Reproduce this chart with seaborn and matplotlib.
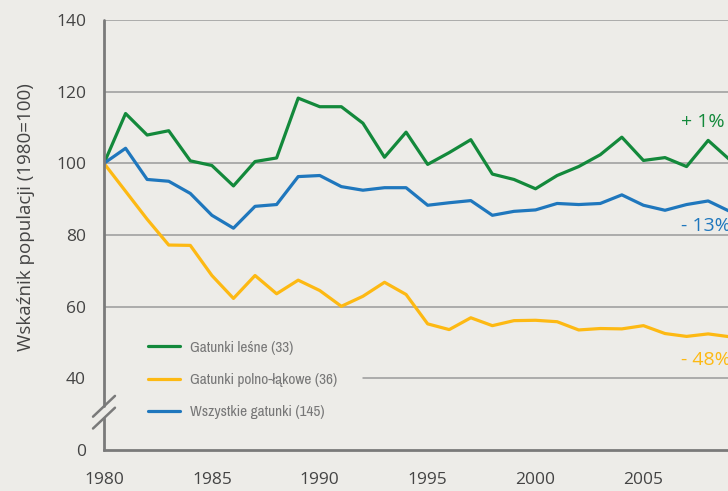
import matplotlib
matplotlib.use("Agg")
import matplotlib.pyplot as plt
import matplotlib.transforms as mtransforms
from matplotlib import font_manager
import seaborn as sns
import pandas as pd

# data (index 1980 = 100)
years = list(range(1980, 2010))
lesne = [100, 113.9, 107.9, 109.1, 100.7, 99.4, 93.7, 100.5, 101.5, 118.2,
         115.8, 115.8, 111.2, 101.7, 108.7, 99.7, 103.0, 106.6, 97.0, 95.5,
         92.9, 96.6, 99.1, 102.4, 107.3, 100.8, 101.6, 99.1, 106.4, 101.0]
polno_lakowe = [100, 92.2, 84.4, 77.2, 77.1, 68.7, 62.3, 68.7, 63.6, 67.4,
                64.5, 60.1, 62.9, 66.8, 63.4, 55.2, 53.6, 56.9, 54.7, 56.1,
                56.2, 55.8, 53.5, 53.9, 53.8, 54.7, 52.5, 51.7, 52.4, 51.6]
wszystkie = [100, 104.2, 95.5, 95.0, 91.6, 85.5, 81.9, 88.0, 88.5, 96.3,
             96.6, 93.5, 92.5, 93.2, 93.2, 88.3, 89.0, 89.6, 85.5, 86.6,
             87.0, 88.8, 88.5, 88.8, 91.2, 88.3, 86.9, 88.5, 89.5, 86.6]

series_names = ["Gatunki leśne (33)", "Gatunki polno-łąkowe (36)", "Wszystkie gatunki (145)"]
series_colors = ["#13893b", "#fdb913", "#1f77bd"]
# end-of-series change labels, same order as the series
end_labels = ["+ 1%", "- 48%", "- 13%"]
end_label_y = [111.5, 45.0, 82.5]

yticks = [20, 40, 60, 80, 100, 120, 140]
ytick_labels = ["0", "40", "60", "80", "100", "120", "140"]
xticks = [1980, 1985, 1990, 1995, 2000, 2005]

bg = "#edece8"
axis_gray = "#7a7a7a"
text_gray = "#444444"

sns.set_theme(style="white")
plt.rcParams["font.family"] = ["Open Sans", "DejaVu Sans"]

# a condensed face for the legend, if one is installed
names = sorted({f.name for f in font_manager.fontManager.ttflist})
narrow = [n for n in names if "Narrow" in n or "Condensed" in n]
legend_font = narrow[0] if narrow else "Roboto"
legend_size = 11 if narrow else 9.6

df = pd.concat([
    pd.DataFrame({"rok": years, "wartosc": vals, "seria": name})
    for name, vals in zip(series_names, [lesne, polno_lakowe, wszystkie])
])

fig = plt.figure(figsize=(7.28, 4.91), dpi=100, facecolor=bg)
ax = fig.add_axes([104 / 728, 41 / 491, 624 / 728, 430 / 491], facecolor=bg)

# gridlines (the 40 one is hidden behind the legend on the left)
for yv in yticks[1:]:
    xmin = 0.415 if yv == 40 else 0
    ax.axhline(yv, xmin=xmin, xmax=1, color="#9a9a9a", lw=1.1, zorder=0)

sns.lineplot(data=df, x="rok", y="wartosc", hue="seria",
             palette=dict(zip(series_names, series_colors)),
             linewidth=2.3, ax=ax, zorder=3)

ax.set_xlim(1980, 2008.92)
ax.set_ylim(20, 140)
ax.set_xticks(xticks)
ax.set_yticks(yticks)
ax.set_yticklabels(ytick_labels)
ax.set_xlabel("")
ax.set_ylabel("Wskaźnik populacji (1980=100)", fontsize=13.5, color=text_gray)
ax.yaxis.set_label_coords(-0.11, 0.542)

ax.tick_params(axis="both", length=5, width=1.8, color=axis_gray,
               labelsize=12.5, labelcolor=text_gray)
ax.tick_params(axis="x", pad=11)
ax.tick_params(axis="y", pad=8)

for s in ["top", "right", "left"]:
    ax.spines[s].set_visible(False)
ax.spines["bottom"].set_color(axis_gray)
ax.spines["bottom"].set_linewidth(2)

# left axis with a break between 0 and 40
tr = mtransforms.blended_transform_factory(ax.transAxes, ax.transData)
ax.plot([0, 0], [32.2, 140], transform=tr, color=axis_gray, lw=2, clip_on=False, zorder=4)
ax.plot([0, 0], [20, 28.9], transform=tr, color=axis_gray, lw=2, clip_on=False, zorder=4)
for yc in [32.2, 28.9]:
    ax.plot([-0.0176, 0.0176], [yc - 2.9, yc + 2.9], transform=tr,
            color=axis_gray, lw=1.8, clip_on=False, zorder=4)

for lab, yv, c in zip(end_labels, end_label_y, series_colors):
    ax.text(2006.74, yv, lab, color=c, fontsize=14, va="center", ha="left",
            clip_on=False)

leg = ax.legend(loc="center left", bbox_to_anchor=(0.06, 0.163), frameon=False,
                handlelength=2.1, handletextpad=0.7, labelspacing=1.2,
                prop={"family": legend_font, "size": legend_size}, borderaxespad=0)
for t in leg.get_texts():
    t.set_color("#777777")
for h in leg.get_lines():
    h.set_linewidth(2.3)

fig.savefig("out.png", dpi=100, facecolor=bg)
